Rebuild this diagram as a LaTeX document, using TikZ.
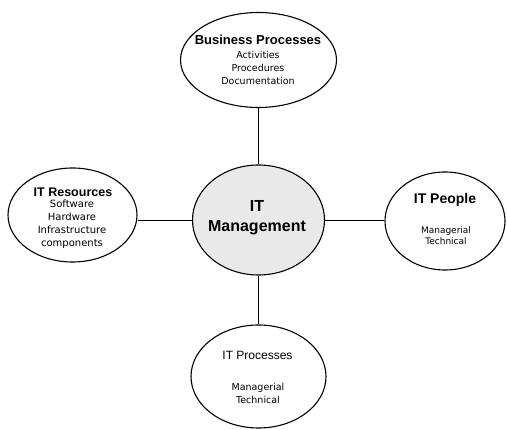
\documentclass[tikz,border=0pt]{standalone}
\usepackage{fontspec}
\setmainfont{Liberation Sans}
\newfontfamily\itemfont{DejaVu Sans}
\usetikzlibrary{shapes.geometric}
\tikzset{
  bubble/.style={draw, ellipse, line width=1.1pt, inner sep=0pt},
  link/.style={line width=0.9pt},
  ttl/.style={inner sep=0pt, align=center},
  itm/.style={inner sep=0pt, align=center},
}
\newcommand{\fsz}[2]{\fontsize{#1}{#2}\selectfont}
\begin{document}
\begin{tikzpicture}[x=1pt,y=-1pt]
\useasboundingbox (0,0) rectangle (507,430);
% ellipses
\node[bubble, minimum width=156pt, minimum height=95pt] (bp) at (258.5,60) {};
\node[bubble, minimum width=129pt, minimum height=94pt] (res) at (72.5,215) {};
\node[bubble, fill=gray!17, minimum width=132pt, minimum height=110pt] (mgmt) at (258.5,220) {};
\node[bubble, minimum width=120pt, minimum height=98pt] (ppl) at (445,221) {};
\node[bubble, minimum width=135pt, minimum height=103pt] (proc) at (258.5,376.5) {};
% connectors
\draw[link] (bp.south) -- (mgmt.north);
\draw[link] (mgmt.south) -- (proc.north);
\draw[link] (mgmt.west) -- (mgmt.west -| res.east);
\draw[link] (mgmt.east) -- (mgmt.east -| ppl.west);
% texts
\node[ttl, font=\fsz{13}{13}\bfseries] (bpt) at (258,40) {Business Processes};
\node[itm, font=\itemfont\fsz{9.5}{13}] (bpi) at (258,68) {Activities\\Procedures\\Documentation};
\node[ttl, font=\fsz{12.5}{13}\bfseries] (rest) at (73,192) {IT Resources};
\node[itm, font=\itemfont\fsz{10}{13}] (resi) at (72,224.5) {Software\\Hardware\\Infrastructure\\components};
\node[ttl, font=\fsz{16}{20}\bfseries] (mgmtt) at (257,218) {IT\\Management};
\node[ttl, font=\fsz{14}{14}\bfseries] (pplt) at (445,200) {IT People};
\node[itm, font=\itemfont\fsz{9}{11}] (ppli) at (446,236) {Managerial\\Technical};
\node[ttl, font=\fsz{12}{12}] (proct) at (257.5,355) {IT Processes};
\node[itm, font=\itemfont\fsz{9.5}{13}] (proci) at (258,393.5) {Managerial\\Technical};
\end{tikzpicture}
\end{document}
